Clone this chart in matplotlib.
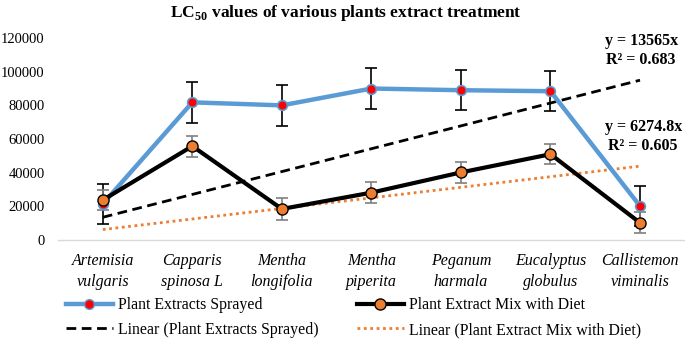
import matplotlib.pyplot as plt
from matplotlib.lines import Line2D

# data
plants = ["Artemisia\nvulgaris", "Capparis\nspinosa L", "Mentha\nlongifolia", "Mentha\npiperita",
          "Peganum\nharmala", "Eucalyptus\nglobulus", "Callistemon\nviminalis"]
sprayed = [21500, 81800, 80000, 90000, 89000, 88400, 20200]
sprayed_err = [11900, 12000, 12000, 12000, 12000, 12000, 12000]
diet = [23800, 55800, 18500, 28200, 40200, 51000, 10300]
diet_err = [6200, 6200, 6500, 6300, 6000, 6000, 6200]
slope_sprayed = 13565
slope_diet = 6274.8

plt.rcParams["font.family"] = ["Liberation Serif", "DejaVu Serif"]
plt.rcParams["mathtext.fontset"] = "custom"
plt.rcParams["mathtext.rm"] = "Liberation Serif:bold"

fig = plt.figure(figsize=(6.85, 3.47), dpi=100)
ax = fig.add_axes([0.0847, 0.308, 0.915, 0.5825])

x = list(range(1, len(plants) + 1))
blue = "#5B9BD5"
orange = "#ED7D31"

# trendlines (forced through origin, as in the equations)
ax.plot(x, [slope_sprayed * i for i in x], color="black", lw=2, ls=(0, (3.5, 2)), zorder=2)
ax.plot(x, [slope_diet * i for i in x], color=orange, lw=2, ls=(0, (1, 1.3)), zorder=2)

ax.errorbar(x, sprayed, yerr=sprayed_err, fmt="none", ecolor="black", elinewidth=1.2,
            capsize=4, capthick=1.2, zorder=3)
ax.errorbar(x, diet, yerr=diet_err, fmt="none", ecolor="#7F7F7F", elinewidth=1.2,
            capsize=4, capthick=1.2, zorder=3)

ax.plot(x, sprayed, color=blue, lw=3.2, marker="o", ms=7, mfc="red", mec=blue, mew=1.2, zorder=4)
ax.plot(x, diet, color="black", lw=3, marker="o", ms=8, mfc=orange, mec="black", mew=1, zorder=5)

ax.set_xlim(0.5, len(plants) + 0.5)
ax.set_ylim(0, 120000)
ax.set_yticks(range(0, 120001, 20000))
ax.set_xticks(x)
ax.set_xticklabels(plants, fontstyle="italic", fontsize=11.5, linespacing=1.45)
ax.tick_params(axis="x", length=0, pad=9)
ax.tick_params(axis="y", length=0, labelsize=10.5, pad=9.5)
for s in ["top", "right", "left"]:
    ax.spines[s].set_visible(False)
ax.spines["bottom"].set_color("#D9D9D9")
ax.spines["bottom"].set_linewidth(1)

fig.text(0.505, 0.962, r"LC$_{50}$ values of various plants extract treatment",
         ha="center", va="center", fontsize=12.5, fontweight="bold")

fig.text(0.936, 0.855, "y = 13565x\nR² = 0.683", ha="center", va="center",
         fontsize=11.5, fontweight="bold", linespacing=1.2)
fig.text(0.939, 0.607, "y = 6274.8x\nR² = 0.605", ha="center", va="center",
         fontsize=11.5, fontweight="bold", linespacing=1.2)

handles = [
    Line2D([], [], color=blue, lw=3.2, marker="o", ms=7, mfc="red", mec=blue),
    Line2D([], [], color="black", lw=2, ls=(0, (3.5, 2))),
    Line2D([], [], color="black", lw=3, marker="o", ms=8, mfc=orange, mec="black"),
    Line2D([], [], color=orange, lw=2, ls=(0, (1, 1.3))),
]
labels = ["Plant Extracts Sprayed", "Linear (Plant Extracts Sprayed)",
          "Plant Extract Mix with Diet", "Linear (Plant Extract Mix with Diet)"]
fig.legend(handles, labels, ncol=2, loc="lower left", bbox_to_anchor=(0.075, -0.015),
           frameon=False, fontsize=11.4, handlelength=3.0, handletextpad=0.3,
           columnspacing=2.4, labelspacing=0.55)

fig.savefig("out.png", dpi=100)
